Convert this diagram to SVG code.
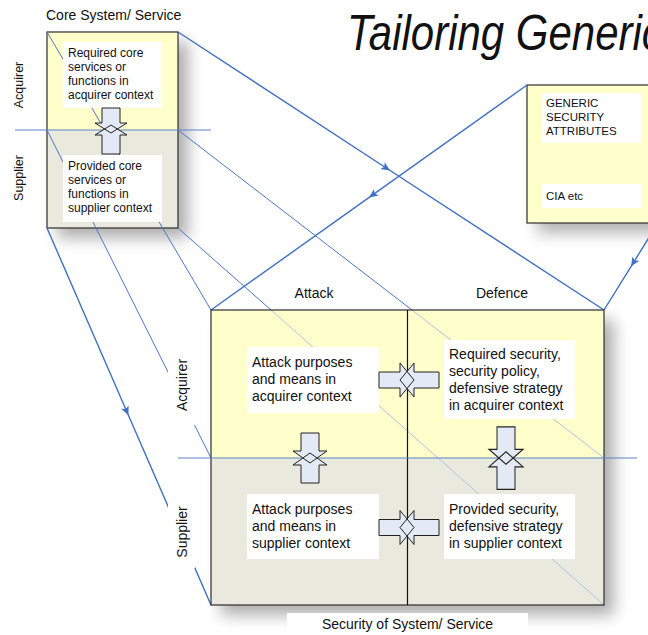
<svg xmlns="http://www.w3.org/2000/svg" width="648" height="635" viewBox="0 0 648 635">
  <style>
    .txt { font-family: "Liberation Sans", Arial, sans-serif; fill: #111; }
    .s12 { font-size: 12px; }
    .s11 { font-size: 11.5px; }
    .s14 { font-size: 14px; }
    .frame { stroke: #2e2e2e; stroke-width: 1.2; }
    .acq { fill: #FFFFCC; }
    .sup { fill: #E9E9DD; }
    .card { fill: #FFFFFF; }
    .pair-fill { fill: #E3EAF5; stroke: none; }
    .pair-edge { fill: none; stroke: #222; stroke-width: 1; stroke-linejoin: miter; }
    .link { fill: none; stroke: #4A78C6; stroke-width: 1; }
    .link-main { fill: none; stroke: #4070C2; stroke-width: 1.4; marker-mid: url(#mid-arrow); }
    .link-faint { fill: none; stroke: #AFC3E4; stroke-width: 1; }
    .divider { stroke: #5B84C8; stroke-width: 1.2; }
  </style>
  <defs>
    <filter id="soft-shadow" x="-20%" y="-20%" width="150%" height="150%">
      <feGaussianBlur stdDeviation="8"/>
    </filter>
    <marker id="mid-arrow" viewBox="0 0 10 10" refX="6" refY="5" markerWidth="9" markerHeight="9" orient="auto" markerUnits="userSpaceOnUse">
      <path d="M0,0.5 L10,5 L0,9.5 L2.5,5 z" fill="#4070C2"/>
    </marker>
    <!-- opposing arrow shapes, drawn around the origin -->
    <polygon id="down-arrow" points="-9,-25 9,-25 9,-7 17,-7 0,5 -17,-7 -9,-7"/>
    <polygon id="up-arrow" points="0,-5 17,7 9,7 9,25 -9,25 -9,7 -17,7"/>
    <polygon id="right-arrow" points="-28,-8 -7,-8 -7,-17 7,0 -7,17 -7,8 -28,8"/>
    <polygon id="left-arrow" points="32,-8 7,-8 7,-17 -7,0 7,17 7,8 32,8"/>
    <polygon id="core-down" points="102,108 120,108 120,123 127,123 111,133 95,123 102,123"/>
    <polygon id="core-up" points="111,125 127,135 120,135 120,154 102,154 102,135 95,135"/>
  </defs>

  <rect width="648" height="635" fill="#FFFFFF"/>

  <!-- heading -->
  <g id="title">
    <text class="txt" transform="translate(347,50) scale(0.84,1)" font-size="50" font-style="italic">Tailoring Generic</text>
  </g>

  <!-- box bodies (behind the projection lines) -->
  <g id="panels">
    <g id="core-system-panel">
      <rect x="57" y="42" width="131" height="196" fill="#000" opacity="0.32" filter="url(#soft-shadow)"/>
      <rect class="acq" x="47" y="32" width="131" height="98"/>
      <rect class="sup" x="47" y="130" width="131" height="98"/>
      <rect x="47" y="32" width="131" height="196" fill="none" class="frame"/>
    </g>
    <g id="generic-attributes-panel">
      <rect x="537" y="95" width="140" height="138" fill="#000" opacity="0.3" filter="url(#soft-shadow)"/>
      <rect class="acq frame" x="527" y="85" width="140" height="138"/>
    </g>
    <g id="security-matrix-panel">
      <rect x="221" y="320" width="393" height="295" fill="#000" opacity="0.32" filter="url(#soft-shadow)"/>
      <rect class="acq" x="211" y="310" width="393" height="148"/>
      <rect class="sup" x="211" y="458" width="393" height="147"/>
    </g>
  </g>

  <!-- projection lines -->
  <g id="connectors">
    <!-- core system corners onto the security matrix -->
    <path class="link" d="M47,32 L211,310"/>
    <path class="link-main" d="M178,32 L387,168.5 L604,310"/>
    <path class="link" d="M47,130 L211,458"/>
    <path class="link" d="M178,130 L412,310"/>
    <path class="link-faint" d="M412,310 L604,458"/>
    <path class="link-main" d="M47,228 L127,412 L211,605"/>
    <path class="link" d="M178,228 L271,310"/>
    <path class="link-faint" d="M271,310 L604,605"/>
    <!-- generic attributes onto the security matrix -->
    <path class="link-main" d="M527,85 L372,195.4 L211,310"/>
    <path class="link-main" d="M658,223 L633,263.3 L604,310"/>
  </g>

  <!-- box contents -->
  <g id="core-system">
    <text class="txt s14" x="46" y="20">Core System/ Service</text>
    <line class="divider" x1="15" y1="130" x2="211" y2="130"/>
    <text class="txt" font-size="12.5" transform="translate(23,85) rotate(-90)" text-anchor="middle">Acquirer</text>
    <text class="txt" font-size="12.5" transform="translate(23,178) rotate(-90)" text-anchor="middle">Supplier</text>
    <g id="core-required">
      <rect class="card" x="63" y="42" width="99" height="66"/>
      <text class="txt s12" x="68" y="57">Required core</text>
      <text class="txt s12" x="68" y="71">services or</text>
      <text class="txt s12" x="68" y="85">functions in</text>
      <text class="txt s12" x="68" y="99">acquirer context</text>
    </g>
    <g id="core-provided">
      <rect class="card" x="63" y="155" width="99" height="67"/>
      <text class="txt s12" x="68" y="170">Provided core</text>
      <text class="txt s12" x="68" y="184">services or</text>
      <text class="txt s12" x="68" y="198">functions in</text>
      <text class="txt s12" x="68" y="212">supplier context</text>
    </g>
    <g id="core-pair">
      <use href="#core-down" class="pair-fill"/>
      <use href="#core-up" class="pair-fill"/>
      <use href="#core-down" class="pair-edge"/>
      <use href="#core-up" class="pair-edge"/>
    </g>
  </g>

  <g id="generic-attributes">
    <rect class="card" x="542" y="93" width="99" height="50"/>
    <text class="txt s11" x="546" y="107">GENERIC</text>
    <text class="txt s11" x="546" y="121">SECURITY</text>
    <text class="txt s11" x="546" y="135">ATTRIBUTES</text>
    <rect class="card" x="542" y="184" width="99" height="24"/>
    <text class="txt s11" x="546" y="200">CIA etc</text>
  </g>

  <g id="security-matrix">
    <text class="txt s14" x="314" y="298" text-anchor="middle">Attack</text>
    <text class="txt s14" x="502" y="298" text-anchor="middle">Defence</text>
    <rect x="211" y="310" width="393" height="295" fill="none" class="frame"/>
    <line x1="407.5" y1="310" x2="407.5" y2="605" stroke="#111" stroke-width="1.2"/>
    <line class="divider" x1="178" y1="458" x2="637" y2="458"/>

    <rect x="168" y="352" width="27" height="73" fill="#FFFFFF"/>
    <text class="txt s14" transform="translate(187,385) rotate(-90)" text-anchor="middle">Acquirer</text>
    <rect x="168" y="497" width="27" height="71" fill="#FFFFFF"/>
    <text class="txt s14" transform="translate(187,532) rotate(-90)" text-anchor="middle">Supplier</text>

    <g id="attack-acquirer">
      <rect class="card" x="247" y="347" width="132" height="66"/>
      <text class="txt s14" x="252" y="367">Attack purposes</text>
      <text class="txt s14" x="252" y="384">and means in</text>
      <text class="txt s14" x="252" y="401">acquirer context</text>
    </g>
    <g id="defence-acquirer">
      <rect class="card" x="444" y="340" width="131" height="79"/>
      <text class="txt s14" x="449" y="359">Required security,</text>
      <text class="txt s14" x="449" y="376">security policy,</text>
      <text class="txt s14" x="449" y="393">defensive strategy</text>
      <text class="txt s14" x="449" y="410">in acquirer context</text>
    </g>
    <g id="attack-supplier">
      <rect class="card" x="247" y="494" width="132" height="65"/>
      <text class="txt s14" x="252" y="514">Attack purposes</text>
      <text class="txt s14" x="252" y="531">and means in</text>
      <text class="txt s14" x="252" y="548">supplier context</text>
    </g>
    <g id="defence-supplier">
      <rect class="card" x="444" y="494" width="131" height="65"/>
      <text class="txt s14" x="449" y="514">Provided security,</text>
      <text class="txt s14" x="449" y="531">defensive strategy</text>
      <text class="txt s14" x="449" y="548">in supplier context</text>
    </g>

    <!-- opposing arrow pairs between cells: fills first, outlines on top -->
    <g id="pair-acquirer-row">
      <use href="#right-arrow" class="pair-fill" transform="translate(407,380)"/>
      <use href="#left-arrow" class="pair-fill" transform="translate(407,380)"/>
      <use href="#right-arrow" class="pair-edge" transform="translate(407,380)"/>
      <use href="#left-arrow" class="pair-edge" transform="translate(407,380)"/>
    </g>
    <g id="pair-supplier-row">
      <use href="#right-arrow" class="pair-fill" transform="translate(407,527.5)"/>
      <use href="#left-arrow" class="pair-fill" transform="translate(407,527.5)"/>
      <use href="#right-arrow" class="pair-edge" transform="translate(407,527.5)"/>
      <use href="#left-arrow" class="pair-edge" transform="translate(407,527.5)"/>
    </g>
    <g id="pair-attack-column">
      <use href="#down-arrow" class="pair-fill" transform="translate(310,458)"/>
      <use href="#up-arrow" class="pair-fill" transform="translate(310,458)"/>
      <use href="#down-arrow" class="pair-edge" transform="translate(310,458)"/>
      <use href="#up-arrow" class="pair-edge" transform="translate(310,458)"/>
    </g>
    <g id="pair-defence-column">
      <use href="#down-arrow" class="pair-fill" transform="translate(506,458) scale(1,1.25)"/>
      <use href="#up-arrow" class="pair-fill" transform="translate(506,458) scale(1,1.25)"/>
      <use href="#down-arrow" class="pair-edge" transform="translate(506,458) scale(1,1.25)"/>
      <use href="#up-arrow" class="pair-edge" transform="translate(506,458) scale(1,1.25)"/>
    </g>

    <rect class="card" x="287" y="613" width="241" height="22"/>
    <text class="txt s14" x="407.5" y="629" text-anchor="middle">Security of System/ Service</text>
  </g>
</svg>
